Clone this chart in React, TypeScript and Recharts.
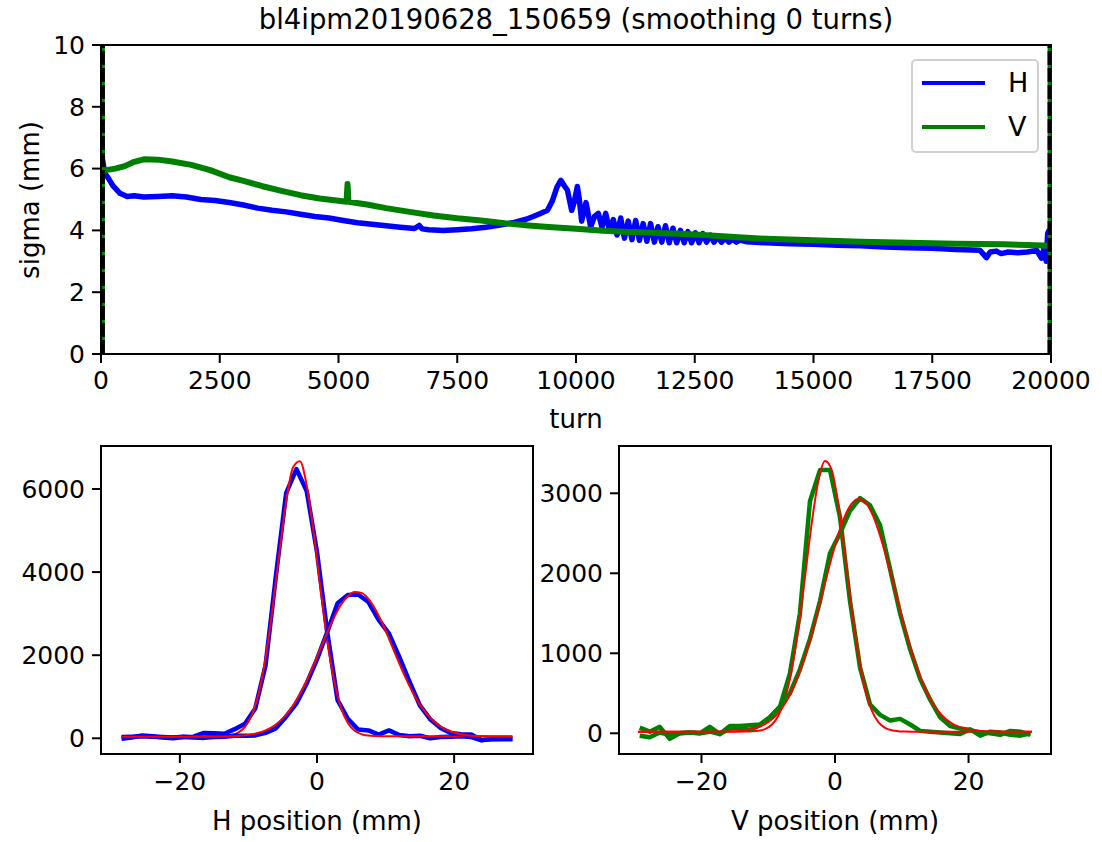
import { LineChart, Line, XAxis, YAxis, ReferenceLine, ReferenceArea } from "recharts";

// sigma vs turn (top panel)
const hTurns = [
  0, 30, 80, 150, 250, 400, 550, 700, 900, 1200, 1500, 1800, 2100, 2400, 2700, 3000, 3300, 3600, 3900, 4200,
  4500, 4800, 5100, 5400, 5700, 6000, 6300, 6600, 6700, 6760, 6900, 7200, 7500, 7800, 8100, 8400, 8700, 8950,
  9100, 9250, 9400, 9500, 9600, 9680, 9750, 9820, 9909, 9960, 10028, 10070, 10119, 10210, 10309, 10390, 10470,
  10547, 10625, 10705, 10786, 10865, 10941, 11020, 11100, 11178, 11256, 11335, 11413, 11492, 11570, 11650,
  11727, 11806, 11884, 11963, 12041, 12120, 12198, 12277, 12355, 12434, 12512, 12591, 12669, 12748, 12826,
  12905, 12983, 13062, 13140, 13219, 13297, 13376, 13454, 13600, 14000, 14500, 15000, 15500, 16000, 16500,
  17000, 17500, 18000, 18500, 18640, 18720, 18850, 18950, 19100, 19300, 19500, 19700, 19800, 19850, 19900,
  19930, 19960, 20000,
];
const hSigma = [
  7.6, 6.3, 5.85, 5.7, 5.45, 5.2, 5.1, 5.12, 5.08, 5.1, 5.12, 5.08, 5.0, 4.97, 4.9, 4.82, 4.72, 4.65, 4.6, 4.52,
  4.45, 4.4, 4.32, 4.25, 4.2, 4.15, 4.1, 4.06, 4.16, 4.05, 4.02, 4.0, 4.02, 4.05, 4.1, 4.17, 4.26, 4.36,
  4.45, 4.55, 4.65, 4.95, 5.4, 5.62, 5.45, 5.3, 4.65, 4.9, 5.42, 5.0, 4.3, 4.9, 4.12, 4.45, 4.55,
  4.1, 4.55, 4.0, 4.35, 3.85, 4.4, 3.75, 4.3, 3.7, 4.32, 3.68, 4.22, 3.65, 4.22, 3.62,
  4.12, 3.62, 4.15, 3.6, 4.07, 3.6, 4.0, 3.6, 3.96, 3.6, 3.92, 3.6, 3.9, 3.62, 3.85,
  3.62, 3.8, 3.62, 3.76, 3.62, 3.72, 3.62, 3.69, 3.63, 3.6, 3.57, 3.55, 3.52, 3.5, 3.46,
  3.44, 3.42, 3.38, 3.36, 3.12, 3.3, 3.33, 3.25, 3.3, 3.28, 3.3, 3.35, 3.1, 3.4, 3.0,
  3.9, 4.0, 3.6,
];
const vTurns = [
  0, 100, 300, 500, 700, 900, 1200, 1500, 1900, 2300, 2700, 3000, 3400, 3800, 4200, 4600, 5000, 5170, 5190,
  5210, 5600, 6000, 6500, 7000, 7500, 8000, 8500, 9000, 9500, 10000, 10500, 11000, 11500, 12000, 12500,
  13000, 13500, 14000, 15000, 16000, 17000, 18000, 19000, 19500, 20000,
];
const vSigma = [
  5.85, 5.95, 6.0, 6.08, 6.22, 6.3, 6.29, 6.23, 6.12, 5.95, 5.72, 5.6, 5.43, 5.28, 5.14, 5.03, 4.96, 4.93, 5.5,
  4.93, 4.84, 4.72, 4.6, 4.48, 4.39, 4.32, 4.23, 4.16, 4.1, 4.05, 4.0, 3.96, 3.93, 3.9, 3.87,
  3.82, 3.77, 3.73, 3.68, 3.63, 3.6, 3.57, 3.55, 3.53, 3.5,
];
const turnTicks = [0, 2500, 5000, 7500, 10000, 12500, 15000, 17500, 20000];
const sigmaTicks = [0, 2, 4, 6, 8, 10];

// H profiles (bottom left)
const hPos = [
  -28.5, -27, -25.5, -24, -22.5, -21, -19.5, -18, -16.5, -15, -13.5, -12, -10.5, -9, -7.5, -6, -4.5, -3, -1.5, 0,
  1.5, 3, 4.5, 6, 7.5, 9, 10.5, 12, 13.5, 15, 16.5, 18, 19.5, 21, 22.5, 24, 25.5, 27, 28.5,
];
const hFirst = [
  -10, 20, 70, 50, 20, 0, 30, 40, 130, 120, 110, 220, 350, 720, 1760, 3900, 5900, 6480, 5950, 4480,
  2550, 920, 470, 210, 190, 90, 190, 80, 50, 60, 0, 30, 40, 50, 30, -50, -20, -20, -20,
];
const hLast = [
  30, 40, 50, 40, 30, 20, 40, 20, 10, 30, 40, 60, 60, 70, 130, 240, 520, 840, 1320, 1900,
  2560, 3250, 3450, 3460, 3280, 2850, 2520, 1960, 1360, 790, 460, 250, 130, 100, 90, -40, -20, -10, -10,
];
const hFitPos = [
  -28.5, -27.5, -26.5, -25.5, -24.5, -23.5, -22.5, -21.5, -20.5, -19.5, -18.5, -17.5, -16.5, -15.5, -14.5,
  -13.5, -12.5, -11.5, -10.5, -9.5, -8.5, -7.5, -6.5, -5.5, -4.5, -3.5, -2.5, -1.5, -0.5, 0.5, 1.5, 2.5, 3.5,
  4.5, 5.5, 6.5, 7.5, 8.5, 9.5, 10.5, 11.5, 12.5, 13.5, 14.5, 15.5, 16.5, 17.5, 18.5, 19.5, 20.5, 21.5, 22.5,
  23.5, 24.5, 25.5, 26.5, 27.5, 28.5,
];
const hFitFirst = [
  50, 50, 50, 50, 50, 50, 50, 50, 50, 50, 50, 50, 50, 50, 53,
  60, 81, 138, 276, 563, 1091, 1935, 3094, 4437, 5689, 6517, 6666, 6088, 4967, 3621, 2364, 1389, 740,
  367, 180, 98, 66, 55, 51, 50, 50, 50, 50, 50, 50, 50, 50, 50, 50, 50, 50, 50,
  50, 50, 50, 50, 50, 50,
];
const hFitLast = [
  40, 40, 40, 40, 40, 40, 40, 40, 40, 40, 40, 40, 40, 41, 42,
  45, 49, 57, 71, 94, 132, 190, 277, 400, 568, 789, 1064, 1392, 1762, 2157, 2552, 2915, 3217,
  3427, 3524, 3500, 3355, 3105, 2775, 2396, 1998, 1610, 1255, 947, 694, 495, 345, 238, 164, 115, 83, 64,
  53, 47, 43, 42, 41, 40,
];

// V profiles (bottom right)
const vPos = [
  -29.25, -27.75, -26.25, -24.75, -23.25, -21.75, -20.25, -18.75, -17.25, -15.75, -14.25, -12.75, -11.25, -9.75,
  -8.25, -6.75, -5.25, -3.75, -2.25, -0.75, 0.75, 2.25, 3.75, 5.25, 6.75, 8.25, 9.75, 11.25, 12.75, 14.25,
  15.75, 17.25, 18.75, 20.25, 21.75, 23.25, 24.75, 26.25, 27.75, 29.25,
];
const vFirst = [
  70, 20, 80, -70, 0, 10, 0, 80, -10, 90, 90, 100, 110, 200, 330, 750, 1500, 2900, 3290, 3290,
  2700, 1650, 820, 360, 230, 160, 180, 110, 30, 20, 10, 0, -10, 50, -30, 20, 10, -20, -30, 0,
];
const vLast = [
  -30, -50, 10, -20, 0, 10, 0, 20, -10, 60, 70, 40, 100, 200, 330, 500, 800, 1180, 1650, 2250,
  2500, 2780, 2940, 2850, 2600, 2050, 1500, 1050, 680, 420, 200, 90, 60, 40, 10, 0, -20, 30, 20, -20,
];
const vFitPos = [
  -29.5, -28.5, -27.5, -26.5, -25.5, -24.5, -23.5, -22.5, -21.5, -20.5, -19.5, -18.5, -17.5, -16.5, -15.5,
  -14.5, -13.5, -12.5, -11.5, -10.5, -9.5, -8.5, -7.5, -6.5, -5.5, -4.5, -3.5, -2.5, -1.5, -0.5, 0.5, 1.5,
  2.5, 3.5, 4.5, 5.5, 6.5, 7.5, 8.5, 9.5, 10.5, 11.5, 12.5, 13.5, 14.5, 15.5, 16.5, 17.5, 18.5, 19.5, 20.5,
  21.5, 22.5, 23.5, 24.5, 25.5, 26.5, 27.5, 28.5, 29.5,
];
const vFitFirst = [
  20, 20, 20, 20, 20, 20, 20, 20, 20, 20, 20, 20, 20, 20, 20,
  20, 21, 24, 31, 52, 104, 217, 430, 787, 1306, 1951, 2618, 3152, 3403, 3293, 2858, 2224,
  1554, 976, 554, 287, 140, 68, 37, 26, 22, 20, 20, 20, 20, 20, 20, 20, 20, 20, 20,
  20, 20, 20, 20, 20, 20, 20, 20, 20,
];
const vFitLast = [
  20, 20, 20, 20, 20, 20, 20, 20, 20, 20, 20, 20, 21, 23, 25,
  30, 39, 53, 77, 114, 171, 253, 368, 521, 718, 959, 1240, 1552, 1878, 2198, 2486, 2717,
  2870, 2930, 2890, 2755, 2537, 2259, 1944, 1617, 1300, 1012, 763, 557, 395, 273, 185, 124, 83, 57, 41,
  32, 26, 23, 21, 20, 20, 20, 20, 20,
];
const posTicks = [-20, 0, 20];

const zip = (xs: number[], ys: number[]) => xs.map((x, i) => ({ x, y: ys[i] }));

const FONT = "DejaVu Sans";
const tick = { fontSize: 25, fill: "#000", fontFamily: FONT };
const axisLine = { stroke: "#000", strokeWidth: 2 };
const minus = (v: number) => String(v).replace("-", "\u2212");

const BLUE = "#0000ff";
const GREEN = "#008000";
const RED = "#ff0000";

function Text({ x, y, children, size = 26, rotate = false }: any) {
  return (
    <div
      style={{
        position: "absolute",
        left: x,
        top: y,
        transform: `translate(-50%, -50%)${rotate ? " rotate(-90deg)" : ""}`,
        fontFamily: FONT,
        fontSize: size,
        lineHeight: 1,
        whiteSpace: "nowrap",
        color: "#000",
      }}
    >
      {children}
    </div>
  );
}

function TopPanel() {
  return (
    <div style={{ position: "absolute", left: 0, top: 0 }}>
      <LineChart width={1102} height={400} margin={{ top: 45, right: 51, bottom: 0, left: 0 }}>
        <XAxis
          type="number"
          dataKey="x"
          domain={[0, 20000]}
          ticks={turnTicks}
          interval={0}
          height={46}
          tick={tick}
          tickSize={9}
          tickMargin={8}
          axisLine={axisLine}
          tickLine={axisLine}
          allowDataOverflow
        />
        <YAxis
          type="number"
          domain={[0, 10]}
          ticks={sigmaTicks}
          interval={0}
          width={101}
          tick={tick}
          tickSize={9}
          tickMargin={7}
          axisLine={axisLine}
          tickLine={axisLine}
          allowDataOverflow
        />
        <ReferenceArea x1={0} x2={20000} y1={0} y2={10} fill="none" stroke="#000" strokeWidth={2} />
        <Line
          data={zip(hTurns, hSigma)}
          dataKey="y"
          stroke={BLUE}
          strokeWidth={5.5}
          dot={false}
          strokeLinejoin="round"
          isAnimationActive={false}
        />
        <Line
          data={zip(vTurns, vSigma)}
          dataKey="y"
          stroke={GREEN}
          strokeWidth={6}
          dot={false}
          strokeLinejoin="round"
          isAnimationActive={false}
        />
        <ReferenceLine x={40} stroke={GREEN} strokeWidth={4} />
        <ReferenceLine x={40} stroke="#000" strokeWidth={4} strokeDasharray="14 3" />
        <ReferenceLine x={19970} stroke={GREEN} strokeWidth={4} />
        <ReferenceLine x={19970} stroke="#000" strokeWidth={4} strokeDasharray="14 3" />
      </LineChart>
    </div>
  );
}

function ProfilePanel({
  left,
  width,
  yWidth,
  xDomain,
  yDomain,
  yTicks,
  pos,
  first,
  last,
  fitPos,
  fitFirst,
  fitLast,
  color,
}: any) {
  return (
    <div style={{ position: "absolute", left, top: 400 }}>
      <LineChart width={width} height={400} margin={{ top: 46, right: 51, bottom: 0, left: 0 }}>
        <XAxis
          type="number"
          dataKey="x"
          domain={xDomain}
          ticks={posTicks}
          interval={0}
          height={46}
          tick={tick}
          tickSize={9}
          tickMargin={9}
          tickFormatter={minus}
          axisLine={axisLine}
          tickLine={axisLine}
          allowDataOverflow
        />
        <YAxis
          type="number"
          domain={yDomain}
          ticks={yTicks}
          interval={0}
          width={yWidth}
          tick={tick}
          tickSize={9}
          tickMargin={7}
          axisLine={axisLine}
          tickLine={axisLine}
          allowDataOverflow
        />
        <ReferenceArea
          x1={xDomain[0]}
          x2={xDomain[1]}
          y1={yDomain[0]}
          y2={yDomain[1]}
          fill="none"
          stroke="#000"
          strokeWidth={2}
        />
        <Line data={zip(pos, first)} dataKey="y" stroke={color} strokeWidth={4.5} dot={false} strokeLinejoin="round" isAnimationActive={false} />
        <Line data={zip(fitPos, fitFirst)} type="monotone" dataKey="y" stroke={RED} strokeWidth={2} dot={false} isAnimationActive={false} />
        <Line data={zip(pos, last)} dataKey="y" stroke={color} strokeWidth={4.5} dot={false} strokeLinejoin="round" isAnimationActive={false} />
        <Line data={zip(fitPos, fitLast)} type="monotone" dataKey="y" stroke={RED} strokeWidth={2} dot={false} isAnimationActive={false} />
      </LineChart>
    </div>
  );
}

function LegendBox() {
  const row = (top: number, color: string, label: string) => (
    <div style={{ position: "absolute", left: 9, top, height: 30, width: 110 }}>
      <div style={{ position: "absolute", left: 0, top: 13, width: 63, height: 4, background: color }} />
      <div style={{ position: "absolute", left: 86, top: 0, fontFamily: FONT, fontSize: 27, lineHeight: "30px" }}>{label}</div>
    </div>
  );
  return (
    <div
      style={{
        position: "absolute",
        left: 911,
        top: 59,
        width: 124,
        height: 90,
        border: "2px solid #d0d0d0",
        borderRadius: 5,
        background: "rgba(255,255,255,0.8)",
      }}
    >
      {row(7, BLUE, "H")}
      {row(51, GREEN, "V")}
    </div>
  );
}

export default function App() {
  return (
    <div style={{ position: "absolute", left: 0, top: 0, width: 1102, height: 842, background: "#fff" }}>
      <TopPanel />
      <ProfilePanel
        left={0}
        width={584}
        yWidth={101}
        xDomain={[-31.5, 31.5]}
        yDomain={[-378, 7035]}
        yTicks={[0, 2000, 4000, 6000]}
        pos={hPos}
        first={hFirst}
        last={hLast}
        fitPos={hFitPos}
        fitFirst={hFitFirst}
        fitLast={hFitLast}
        color={BLUE}
      />
      <ProfilePanel
        left={500}
        width={602}
        yWidth={119}
        xDomain={[-32.35, 32.35]}
        yDomain={[-259, 3591]}
        yTicks={[0, 1000, 2000, 3000]}
        pos={vPos}
        first={vFirst}
        last={vLast}
        fitPos={vFitPos}
        fitFirst={vFitFirst}
        fitLast={vFitLast}
        color={GREEN}
      />
      <LegendBox />
      <Text x={576} y={20} size={27.5}>bl4ipm20190628_150659 (smoothing 0 turns)</Text>
      <Text x={576} y={419}>turn</Text>
      <Text x={30} y={200} rotate>sigma (mm)</Text>
      <Text x={317} y={821}>H position (mm)</Text>
      <Text x={835} y={821}>V position (mm)</Text>
    </div>
  );
}
